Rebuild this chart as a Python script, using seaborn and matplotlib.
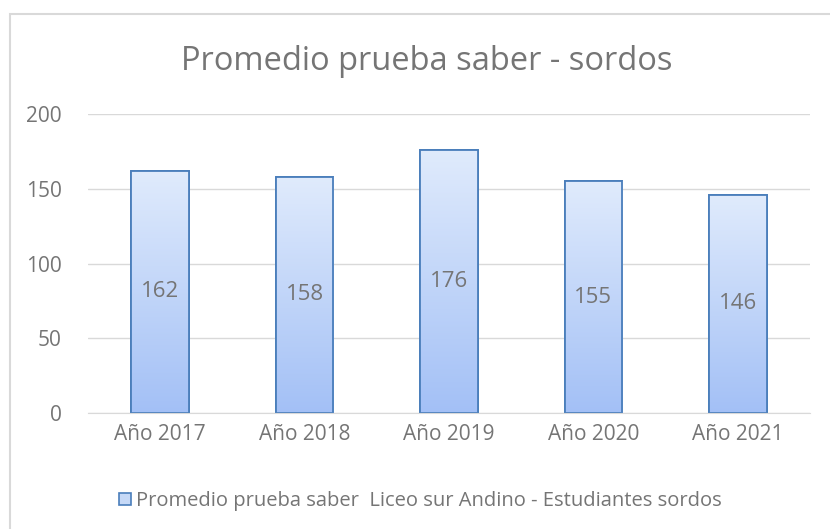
import numpy as np
import pandas as pd
import matplotlib
matplotlib.use("Agg")
import matplotlib.pyplot as plt
from matplotlib.patches import Rectangle, Patch
from matplotlib.colors import LinearSegmentedColormap
import seaborn as sns

### Data
years = ["Año 2017", "Año 2018", "Año 2019", "Año 2020", "Año 2021"]
scores = [162, 158, 176, 155, 146]
series_name = "Promedio prueba saber  Liceo sur Andino - Estudiantes sordos"

df = pd.DataFrame({"year": years, "score": scores})

sns.set_style("white")
plt.rcParams["font.family"] = ["Open Sans", "DejaVu Sans"]

text_col = "#757575"
grid_col = "#d9d9d9"
edge_col = "#4a7ebb"

fig = plt.figure(figsize=(8.30, 5.29), dpi=100)
ax = fig.add_axes([88 / 830, 1 - 413 / 529, 722 / 830, 299 / 529])

sns.barplot(data=df, x="year", y="score", ax=ax, width=0.4,
            color="#c6d9f7", edgecolor=edge_col, linewidth=1.3, zorder=3)

# gradient fill inside each bar
grad = LinearSegmentedColormap.from_list("g", ["#a3c0f6", "#e0ebfc"])
for p in ax.patches:
    x0, y0 = p.get_x(), p.get_y()
    w, h = p.get_width(), p.get_height()
    im = ax.imshow(np.linspace(0, 1, 256).reshape(-1, 1), cmap=grad,
                   origin="lower", aspect="auto",
                   extent=[x0, x0 + w, y0, y0 + h], zorder=3.5)
    im.set_clip_path(p)
    ax.add_patch(Rectangle((x0, y0), w, h, fill=False, edgecolor=edge_col,
                           linewidth=1.3, zorder=4))
    ax.text(x0 + w / 2, h / 2, f"{int(h)}", ha="center", va="center",
            fontsize=16, color=text_col, zorder=5)

ax.set_xlim(-0.5, len(years) - 0.5)
ax.set_ylim(0, 200)
ax.set_yticks([0, 50, 100, 150, 200])
ax.yaxis.grid(True, color=grid_col, linewidth=1, zorder=0)
ax.set_axisbelow(True)
for s in ["top", "right", "left"]:
    ax.spines[s].set_visible(False)
ax.spines["bottom"].set_color(grid_col)
ax.spines["bottom"].set_zorder(6)
ax.tick_params(axis="both", length=0, labelsize=15, colors=text_col)
ax.tick_params(axis="x", pad=8)
ax.tick_params(axis="y", pad=19)
ax.set_xlabel("")
ax.set_ylabel("")

fig.text(427 / 830, 1 - 62 / 529, "Promedio prueba saber - sordos", ha="center",
         va="center", fontsize=23.5, color=text_col)

handle = Patch(facecolor="#c6d9f7", edgecolor=edge_col, linewidth=1.2)
fig.legend([handle], [series_name], loc="center", bbox_to_anchor=(420 / 830, 1 - 501 / 529),
           frameon=False, fontsize=14.5, labelcolor=text_col, handlelength=0.6,
           handleheight=0.6, handletextpad=0.25)

# chart frame
fig.patches.append(Rectangle((10 / 830, -0.1), 1, 1 - 14 / 529 + 0.1,
                             transform=fig.transFigure, fill=False,
                             edgecolor=grid_col, linewidth=1.5))

fig.savefig("out.png", dpi=100)
